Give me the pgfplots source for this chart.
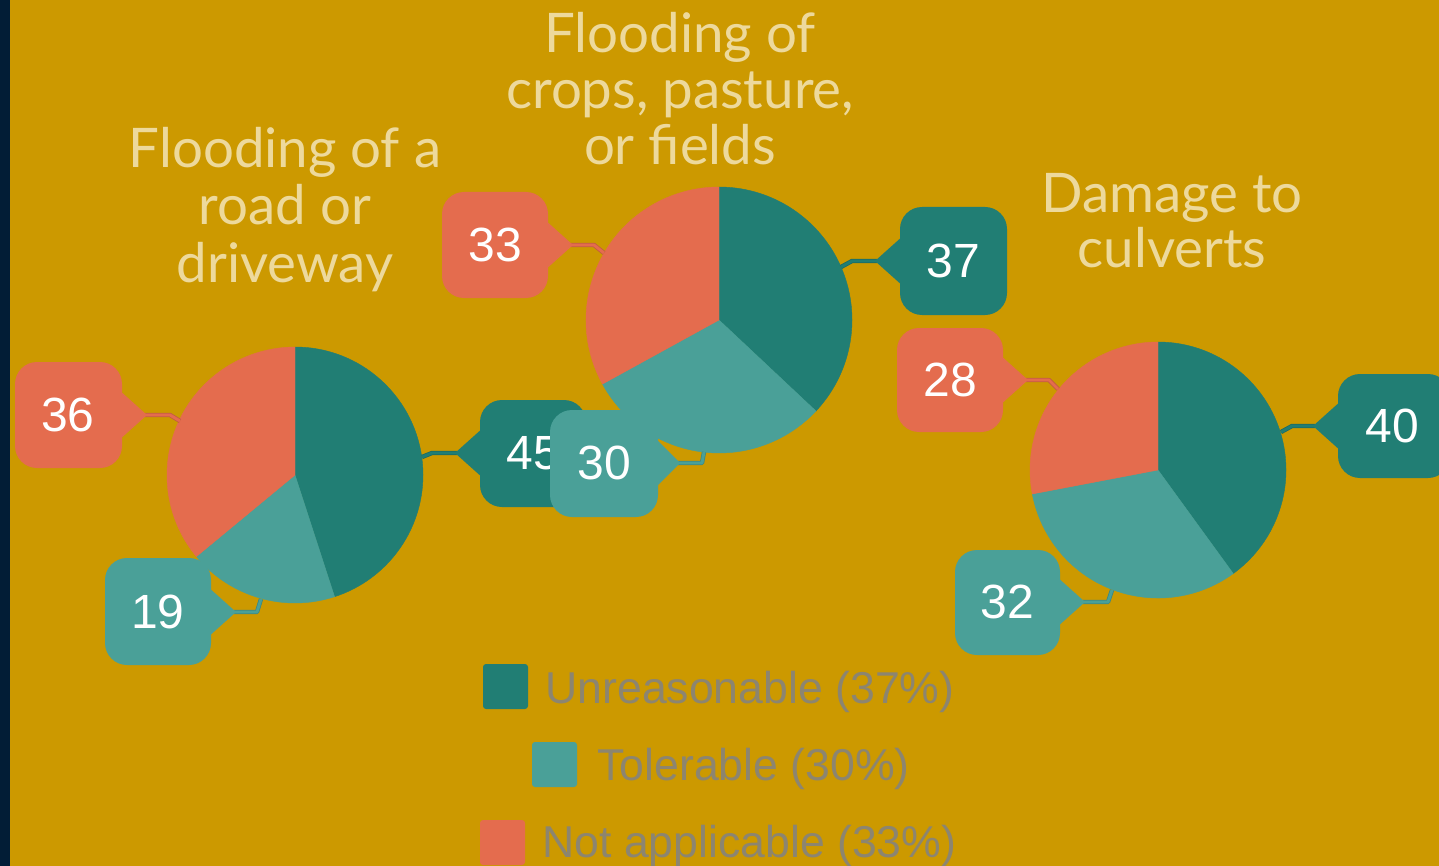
\documentclass[border=0pt]{standalone}
\usepackage{pgfplots}
\pgfplotsset{compat=1.18}
\usepackage{fontspec}
\setmainfont{Liberation Sans}
\newfontfamily\ttlfont{Lato}
\definecolor{bg}{HTML}{CC9900}
\definecolor{navy}{HTML}{021D36}
\definecolor{cU}{HTML}{217E74}
\definecolor{cT}{HTML}{4AA098}
\definecolor{cN}{HTML}{E46C4E}
\definecolor{ttl}{HTML}{EDD99C}
\definecolor{leg}{HTML}{8C8570}

% pie: cx, cy, radius (pt), Unreasonable, Tolerable, Not applicable (percent)
\newcommand{\pie}[6]{%
  \fill[cU, draw=cU, line width=0.2pt] (axis cs:#1,#2) -- ++(90:#3pt) arc[start angle=90, end angle={90-3.6*#4}, radius=#3pt] -- cycle;
  \fill[cT, draw=cT, line width=0.2pt] (axis cs:#1,#2) -- ++({90-3.6*#4}:#3pt) arc[start angle={90-3.6*#4}, end angle={90-3.6*(#4+#5)}, radius=#3pt] -- cycle;
  \fill[cN, draw=cN, line width=0.2pt] (axis cs:#1,#2) -- ++({90-3.6*(#4+#5)}:#3pt) arc[start angle={90-3.6*(#4+#5)}, end angle={90-3.6*(#4+#5+#6)}, radius=#3pt] -- cycle;
}
\newcommand{\lab}{\fontsize{24}{24}\selectfont}
\newcommand{\ttl}{\ttlfont\fontsize{27.3}{28}\selectfont}
\newcommand{\legf}{\fontsize{22.3}{22.3}\selectfont}
\tikzset{conO/.style={line width=2.2pt, line join=round}, conI/.style={line width=1.4pt, line join=round}}

\begin{document}
\begin{tikzpicture}
\useasboundingbox (0,0) rectangle (719.5pt,433pt);
\clip (0,0) rectangle (719.5pt,433pt);
\begin{axis}[at={(0,0)}, anchor=south west, width=719.5pt, height=433pt, scale only axis,
  xmin=0, xmax=1439, ymin=0, ymax=866, y dir=reverse, hide axis, clip=false]
% background
\fill[bg] (axis cs:0,0) rectangle (axis cs:1439,866);
\fill[navy] (axis cs:0,0) rectangle (axis cs:10,866);

% pies
\pie{295}{475}{64}{45}{19}{36}
\pie{719}{320}{66.5}{37}{30}{33}
\pie{1158}{470}{64}{40}{32}{28}

% connectors
\draw[conO, cN!85!black] (axis cs:145,415) -- (axis cs:170,415) -- (axis cs:180,421);
\draw[conI, cN] (axis cs:145,415) -- (axis cs:170,415) -- (axis cs:180,421);
\draw[conO, cU!85!black] (axis cs:457,453) -- (axis cs:432,453) -- (axis cs:422,457);
\draw[conI, cU] (axis cs:457,453) -- (axis cs:432,453) -- (axis cs:422,457);
\draw[conO, cT!85!black] (axis cs:234,612) -- (axis cs:257,612) -- (axis cs:261,599);
\draw[conI, cT] (axis cs:234,612) -- (axis cs:257,612) -- (axis cs:261,599);

\draw[conO, cN!85!black] (axis cs:571,245) -- (axis cs:594,245) -- (axis cs:604,253);
\draw[conI, cN] (axis cs:571,245) -- (axis cs:594,245) -- (axis cs:604,253);
\draw[conO, cU!85!black] (axis cs:877,261) -- (axis cs:852,261) -- (axis cs:841,267);
\draw[conI, cU] (axis cs:877,261) -- (axis cs:852,261) -- (axis cs:841,267);
\draw[conO, cT!85!black] (axis cs:678,463) -- (axis cs:702,463) -- (axis cs:704,452);
\draw[conI, cT] (axis cs:678,463) -- (axis cs:702,463) -- (axis cs:704,452);

\draw[conO, cN!85!black] (axis cs:1026,380) -- (axis cs:1049,380) -- (axis cs:1058,389);
\draw[conI, cN] (axis cs:1026,380) -- (axis cs:1049,380) -- (axis cs:1058,389);
\draw[conO, cU!85!black] (axis cs:1315,426) -- (axis cs:1292,426) -- (axis cs:1281,432);
\draw[conI, cU] (axis cs:1315,426) -- (axis cs:1292,426) -- (axis cs:1281,432);
\draw[conO, cT!85!black] (axis cs:1083,602) -- (axis cs:1108,602) -- (axis cs:1112,590);
\draw[conI, cT] (axis cs:1083,602) -- (axis cs:1108,602) -- (axis cs:1112,590);

% callouts pie 1
\fill[cN, rounded corners=11pt] (axis cs:15,362) rectangle (axis cs:122,468);
\fill[cN] (axis cs:118,389) -- (axis cs:147,415) -- (axis cs:118,441) -- cycle;
\node[text=white, font=\lab] at (axis cs:68,415) {36};
\fill[cU, rounded corners=11pt] (axis cs:480,400) rectangle (axis cs:586,507);
\fill[cU] (axis cs:484,427) -- (axis cs:455,453) -- (axis cs:484,479) -- cycle;
\node[text=white, font=\lab] at (axis cs:533,453) {45};
\fill[cT, rounded corners=11pt] (axis cs:105,558) rectangle (axis cs:211,665);
\fill[cT] (axis cs:207,586) -- (axis cs:236,612) -- (axis cs:207,638) -- cycle;
\node[text=white, font=\lab] at (axis cs:158,612) {19};

% callouts pie 2
\fill[cN, rounded corners=11pt] (axis cs:442,192) rectangle (axis cs:548,298);
\fill[cN] (axis cs:544,219) -- (axis cs:573,245) -- (axis cs:544,271) -- cycle;
\node[text=white, font=\lab] at (axis cs:495,245) {33};
\fill[cU, rounded corners=11pt] (axis cs:900,207) rectangle (axis cs:1007,315);
\fill[cU] (axis cs:904,235) -- (axis cs:875,261) -- (axis cs:904,287) -- cycle;
\node[text=white, font=\lab] at (axis cs:953,261) {37};
\fill[cT, rounded corners=11pt] (axis cs:550,410) rectangle (axis cs:658,517);
\fill[cT] (axis cs:654,437) -- (axis cs:680,463) -- (axis cs:654,489) -- cycle;
\node[text=white, font=\lab] at (axis cs:604,463) {30};

% callouts pie 3
\fill[cN, rounded corners=11pt] (axis cs:897,328) rectangle (axis cs:1003,432);
\fill[cN] (axis cs:999,354) -- (axis cs:1028,380) -- (axis cs:999,406) -- cycle;
\node[text=white, font=\lab] at (axis cs:950,380) {28};
\fill[cU, rounded corners=11pt] (axis cs:1338,374) rectangle (axis cs:1450,478);
\fill[cU] (axis cs:1342,400) -- (axis cs:1313,426) -- (axis cs:1342,452) -- cycle;
\node[text=white, font=\lab] at (axis cs:1392,426) {40};
\fill[cT, rounded corners=11pt] (axis cs:955,550) rectangle (axis cs:1060,655);
\fill[cT] (axis cs:1056,576) -- (axis cs:1085,602) -- (axis cs:1056,628) -- cycle;
\node[text=white, font=\lab] at (axis cs:1007,602) {32};

% titles
\node[text=ttl, font=\ttl, anchor=base] at (axis cs:285,168) {Flooding of a};
\node[text=ttl, font=\ttl, anchor=base] at (axis cs:285,225) {road or};
\node[text=ttl, font=\ttl, anchor=base] at (axis cs:285,282) {driveway};
\node[text=ttl, font=\ttl, anchor=base] at (axis cs:680,53) {Flooding of};
\node[text=ttl, font=\ttl, anchor=base] at (axis cs:680,109) {crops, pasture,};
\node[text=ttl, font=\ttl, anchor=base] at (axis cs:680,165) {or fields};
\node[text=ttl, font=\ttl, anchor=base] at (axis cs:1172,213) {Damage to};
\node[text=ttl, font=\ttl, anchor=base] at (axis cs:1172,268) {culverts};

% legend
\fill[cU, rounded corners=1.5pt] (axis cs:483,664) rectangle (axis cs:528,709);
\node[text=leg, font=\legf, anchor=base west, inner sep=0pt] at (axis cs:545,703) {Unreasonable (37\%)};
\fill[cT, rounded corners=1.5pt] (axis cs:532,742) rectangle (axis cs:577,787);
\node[text=leg, font=\legf, anchor=base west, inner sep=0pt] at (axis cs:597,780) {Tolerable (30\%)};
\fill[cN, rounded corners=1.5pt] (axis cs:480,820) rectangle (axis cs:525,865);
\node[text=leg, font=\legf, anchor=base west, inner sep=0pt] at (axis cs:542,857) {Not applicable (33\%)};
\end{axis}
\end{tikzpicture}
\end{document}
